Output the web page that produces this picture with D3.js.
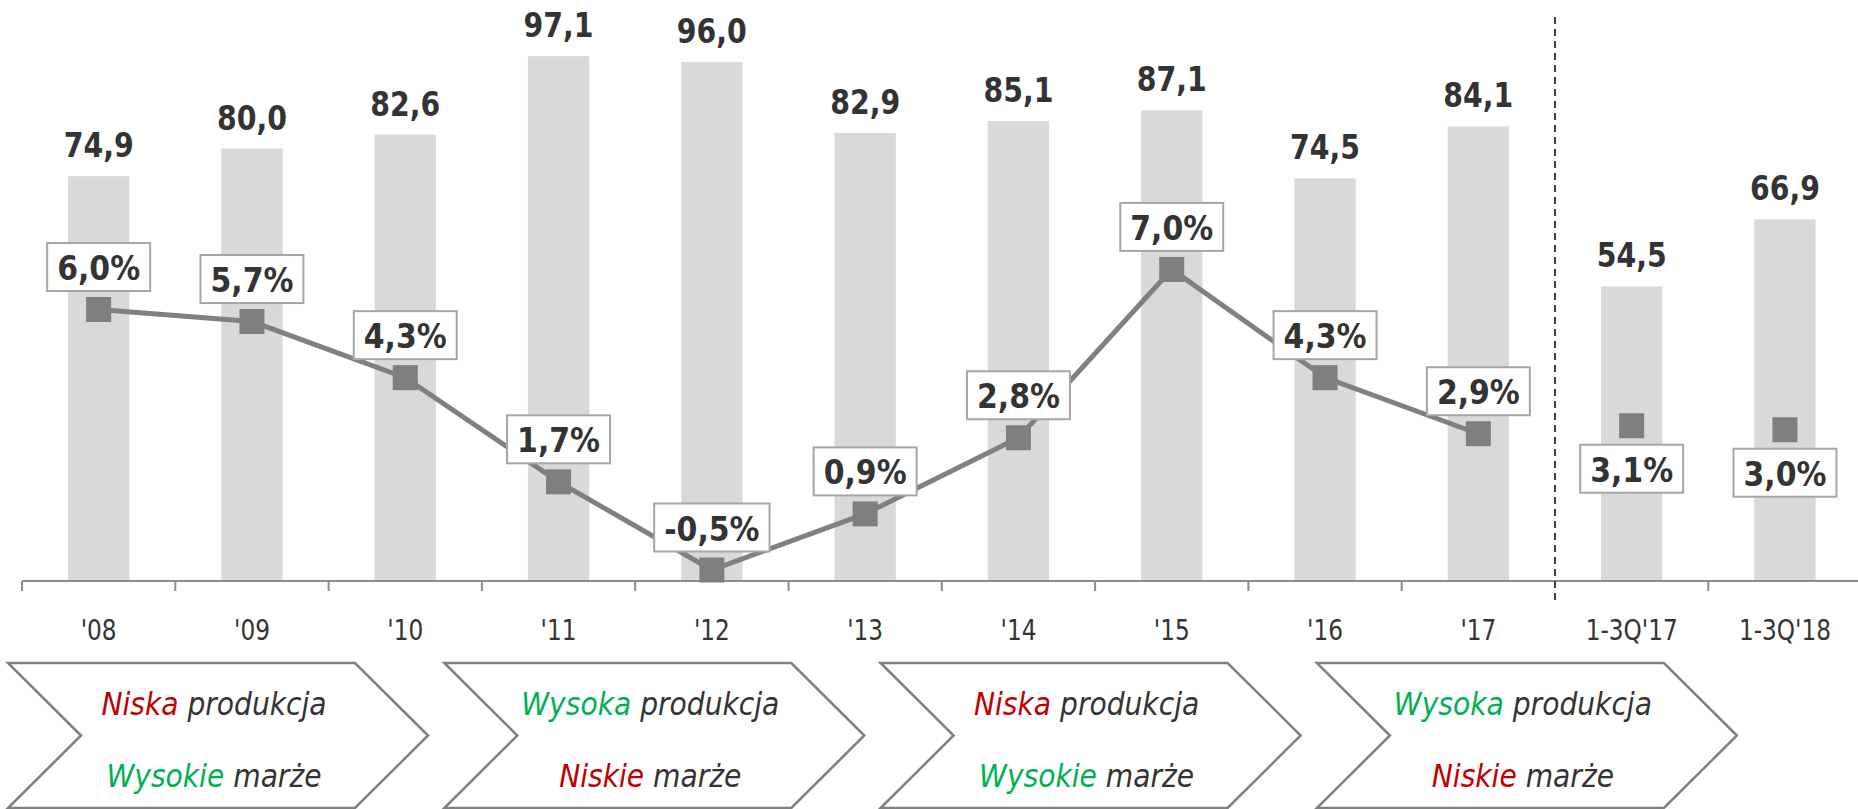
<!DOCTYPE html>
<html>
<head>
<meta charset="utf-8">
<script src="https://cdn.jsdelivr.net/npm/d3@7"></script>
<style>
body { margin: 0; background: #fff; }
svg { display: block; font-family: "DejaVu Sans Condensed", "DejaVu Sans", sans-serif; }
</style>
</head>
<body>
<div id="svg-container"></div>
<script>
// chart data
const categories = ["'08", "'09", "'10", "'11", "'12", "'13", "'14", "'15", "'16", "'17", "1-3Q'17", "1-3Q'18"];
const volumes = [74.9, 80.0, 82.6, 97.1, 96.0, 82.9, 85.1, 87.1, 74.5, 84.1, 54.5, 66.9];
const growth = [6.0, 5.7, 4.3, 1.7, -0.5, 0.9, 2.8, 7.0, 4.3, 2.9, 3.1, 3.0];
const fullYears = 10; // first 10 points are whole years, joined by the line
const phaseProduction = ["Niska", "Wysoka", "Niska", "Wysoka"];
const phaseMargins = ["Wysokie", "Niskie", "Wysokie", "Niskie"];

const W = 1858, H = 809;
const RED = '#c00000', GREEN = '#00b050', DARK = '#333333';

let svg = d3.select('#svg-container').append('svg')
    .attr('width', W)
    .attr('height', H);

// scales
let x = d3.scaleBand().domain(categories).range([22, 22 + 153.3 * categories.length]).padding(0);
let yVol = d3.scaleLinear().domain([0, 100]).range([581, 40.5]);
let yPct = d3.scaleLinear().domain([-0.5, 6]).range([570, 309.5]);
let barW = x.bandwidth() * 0.4;
function cx(i) { return x(categories[i]) + x.bandwidth() / 2; }
function fmt(v) { return v.toFixed(1).replace('.', ','); }
// the source font is narrow, so squeeze text horizontally
function squeeze(px, py, sx) { return `translate(${px},${py}) scale(${sx},1)`; }

// bars
svg.append('g').selectAll('rect')
    .data(volumes)
    .enter().append('rect')
    .attr('x', (d, i) => cx(i) - barW / 2)
    .attr('y', d => yVol(d))
    .attr('width', barW)
    .attr('height', d => yVol(0) - yVol(d))
    .style('fill', '#d9d9d9');

// bar value labels
svg.append('g').selectAll('text')
    .data(volumes)
    .enter().append('text')
    .attr('transform', (d, i) => squeeze(cx(i), yVol(d) - 19, 0.86))
    .attr('text-anchor', 'middle')
    .style('font-family', '"DejaVu Sans", sans-serif')
    .style('font-size', '33px')
    .style('font-weight', 'bold')
    .style('fill', DARK)
    .text(d => fmt(d));

// x axis: labels from d3 axis, line + boundary ticks drawn by hand
let xAxis = svg.append('g')
    .attr('transform', `translate(0,${yVol(0)})`)
    .call(d3.axisBottom(x).tickSize(0));
xAxis.select('.domain').remove();
xAxis.selectAll('text')
    .attr('y', 0)
    .attr('dy', 0)
    .attr('transform', squeeze(0, 59, 0.8))
    .style('font-family', '"DejaVu Sans", sans-serif')
    .style('font-size', '29px')
    .style('fill', DARK);

svg.append('line')
    .attr('x1', x.range()[0]).attr('x2', W)
    .attr('y1', yVol(0)).attr('y2', yVol(0))
    .style('stroke', '#8c8c8c').style('stroke-width', 2);
svg.append('g').selectAll('line')
    .data(d3.range(categories.length + 1).filter(k => k !== fullYears))
    .enter().append('line')
    .attr('x1', k => x.range()[0] + k * x.step())
    .attr('x2', k => x.range()[0] + k * x.step())
    .attr('y1', yVol(0)).attr('y2', yVol(0) + 10)
    .style('stroke', '#8c8c8c').style('stroke-width', 2);

// dashed separator between full years and 1-3Q
svg.append('line')
    .attr('x1', x(categories[fullYears])).attr('x2', x(categories[fullYears]))
    .attr('y1', 17).attr('y2', 602)
    .style('stroke', '#404040')
    .style('stroke-width', 2)
    .style('stroke-dasharray', '7,5');

// growth line (full years only)
let line = d3.line()
    .x((d, i) => cx(i))
    .y(d => yPct(d));
svg.append('path')
    .datum(growth.slice(0, fullYears))
    .attr('d', line)
    .style('fill', 'none')
    .style('stroke', '#808080')
    .style('stroke-width', 5);

// markers
svg.append('g').selectAll('rect')
    .data(growth)
    .enter().append('rect')
    .attr('x', (d, i) => cx(i) - 12.5)
    .attr('y', d => yPct(d) - 12.5)
    .attr('width', 25)
    .attr('height', 25)
    .style('fill', '#7f7f7f');

// growth labels in boxes
const pctSx = 0.88;
let labels = svg.append('g').selectAll('g')
    .data(growth)
    .enter().append('g');
labels.each(function (d, i) {
    let g = d3.select(this);
    let below = i >= fullYears;
    let top = below ? yPct(d) + 19 : yPct(d) - 18.5 - 48;
    let rect = g.append('rect');
    let t = g.append('text')
        .attr('transform', squeeze(cx(i), top + 48 - 11, pctSx))
        .attr('text-anchor', 'middle')
        .style('font-family', '"DejaVu Sans", sans-serif')
        .style('font-size', '34px')
        .style('font-weight', 'bold')
        .style('fill', DARK)
        .text(fmt(d) + '%');
    let w = t.node().getComputedTextLength() * pctSx + 20;
    rect.attr('x', cx(i) - w / 2)
        .attr('y', top)
        .attr('width', w)
        .attr('height', 48)
        .style('fill', '#fff')
        .style('stroke', '#a6a6a6')
        .style('stroke-width', 2);
});

// chevrons with phase descriptions
const chevTop = 663, chevBottom = 808, chevDepth = 73, chevWidth = 347;
let chev = svg.append('g').selectAll('g')
    .data(phaseProduction)
    .enter().append('g')
    .attr('transform', (d, i) => `translate(${8 + i * 436.3},0)`);
chev.append('path')
    .attr('d', () => {
        let mid = (chevTop + chevBottom) / 2;
        return `M0,${chevTop}L${chevWidth},${chevTop}L${chevWidth + chevDepth},${mid}` +
               `L${chevWidth},${chevBottom}L0,${chevBottom}L${chevDepth},${mid}Z`;
    })
    .style('fill', '#fff')
    .style('stroke', '#808080')
    .style('stroke-width', 2.5);

function phaseColor(word) { return word.startsWith('N') ? RED : GREEN; }

let l1 = chev.append('text')
    .attr('transform', squeeze((chevWidth + chevDepth) / 2 - 4, 715, 0.88))
    .attr('text-anchor', 'middle')
    .style('font-family', '"DejaVu Sans", sans-serif')
    .style('font-size', '32px')
    .style('font-style', 'italic');
l1.append('tspan').style('fill', d => phaseColor(d)).text(d => d);
l1.append('tspan').style('fill', DARK).text(' produkcja');

let l2 = chev.append('text')
    .attr('transform', squeeze((chevWidth + chevDepth) / 2 - 4, 787, 0.88))
    .attr('text-anchor', 'middle')
    .style('font-family', '"DejaVu Sans", sans-serif')
    .style('font-size', '32px')
    .style('font-style', 'italic');
l2.append('tspan').style('fill', (d, i) => phaseColor(phaseMargins[i])).text((d, i) => phaseMargins[i]);
l2.append('tspan').style('fill', DARK).text(' marże');
</script>
</body>
</html>
